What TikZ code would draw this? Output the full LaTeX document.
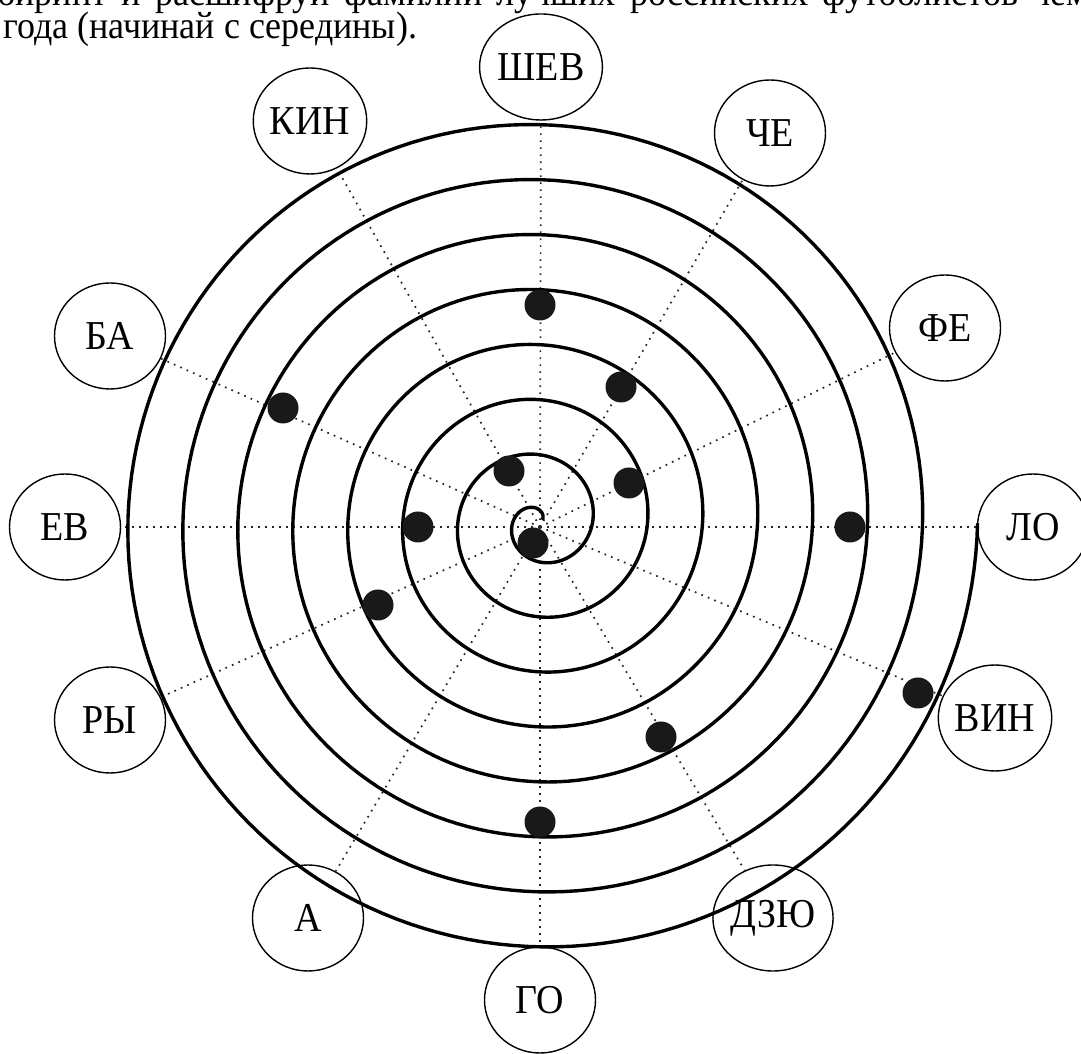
\documentclass[tikz,border=0pt]{standalone}
\usepackage{fontspec}
\usepackage{graphicx}
\setmainfont{Liberation Serif}
\usetikzlibrary{shapes.geometric}
\newcommand{\tallx}[1]{\scalebox{1}[1.08]{#1}}
\begin{document}
\begin{tikzpicture}[x=0.5pt,y=0.5pt,
  lbl/.style={draw, ellipse, line width=0.7pt, minimum width=55.5pt, minimum height=53pt, inner sep=0pt, font=\fontsize{19}{22}\selectfont},
  ray/.style={line width=0.85pt, dash pattern=on 0.85pt off 2.65pt, black!85},
  spir/.style={line width=1.7pt, line join=round, line cap=round},
  dotm/.style={circle, fill=black!90, minimum size=15.5pt, inner sep=0pt},
  txt/.style={anchor=base west, inner sep=0pt, font=\fontsize{18}{20}\selectfont}]
\useasboundingbox (0,0) rectangle (1081,1054);
\clip (0,0) rectangle (1081,1054);
% top text (page cut off at the top)
\node[txt] (t1) at (-37,1048) {\scalebox{1}[1.06]{\makebox[563pt][s]{лабиринт и расшифруй фамилии лучших российских футболистов чем}}};
\node[txt] (t2) at (3,1015.5) {\scalebox{1}[1.06]{года (начинай с середины).}};
% label circles
\node[lbl] (shev) at (541,987) {\tallx{ШЕВ}};
\node[lbl] (kin)  at (310,933) {\tallx{КИН}};
\node[lbl] (che)  at (770,921) {\tallx{ЧЕ}};
\node[lbl] (ba)   at (110,718) {\tallx{БА}};
\node[lbl] (fe)   at (945,726) {\tallx{ФЕ}};
\node[lbl] (ev)   at (65,527)  {\tallx{ЕВ}};
\node[lbl] (lo)   at (1033,527) {\tallx{ЛО}};
\node[lbl] (ry)   at (110,334) {\tallx{РЫ}};
\node[lbl] (vin)  at (995,336) {\tallx{ВИН}};
\node[lbl] (a)    at (308,136) {\tallx{А}};
\node[lbl] (dzyu) at (773,136) {\tallx{ДЗЮ}};
\node[lbl] (go)   at (540,54)  {\tallx{ГО}};
% rays
\coordinate (O) at (540,527);
\foreach \n in {shev,kin,che,ba,fe,ev,lo,ry,vin,a,dzyu,go}
  \draw[ray] (O) -- (\n);
% spiral (parameter in turns)
\draw[spir] plot[domain=0.111:8, samples=1400, variable=\t]
  ({539+(55*\t-1.4)*cos(360*\t)}, {532+(55*\t-1.4)*sin(360*\t)});
% dots
\node[dotm] (d1)  at (540,749) {};
\node[dotm] (d2)  at (621,667) {};
\node[dotm] (d3)  at (283,646) {};
\node[dotm] (d4)  at (509,583) {};
\node[dotm] (d5)  at (629,571) {};
\node[dotm] (d6)  at (418,527) {};
\node[dotm] (d7)  at (850,527) {};
\node[dotm] (d8)  at (533,511) {};
\node[dotm] (d9)  at (378,449) {};
\node[dotm] (d10) at (918,361) {};
\node[dotm] (d11) at (661,317) {};
\node[dotm] (d12) at (540,232) {};
\end{tikzpicture}
\end{document}
